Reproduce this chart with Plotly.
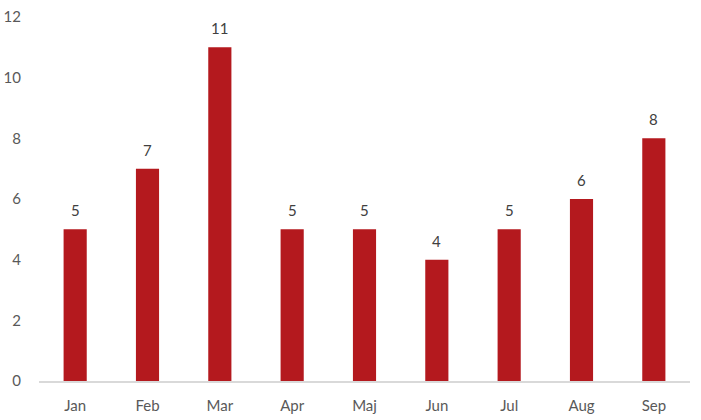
import plotly.graph_objects as go

months = ["Jan", "Feb", "Mar", "Apr", "Maj", "Jun", "Jul", "Aug", "Sep"]
values = [5, 7, 11, 5, 5, 4, 5, 6, 8]
y_ticks = [0, 2, 4, 6, 8, 10, 12]

FONT = "Lato, Open Sans, sans-serif"

fig = go.Figure(go.Bar(
    x=months, y=values,
    marker=dict(color="#B4191E", line=dict(width=0)),
    hoverinfo="x+y",
))

for m, v in zip(months, values):
    fig.add_annotation(
        x=m, y=v, text=str(v), showarrow=False,
        yanchor="bottom", yshift=8,
        font=dict(size=15, color="#404040", family=FONT),
    )

fig.update_layout(
    width=701, height=420,
    margin=dict(l=39, r=11, t=17, b=39, autoexpand=False),
    plot_bgcolor="white", paper_bgcolor="white",
    bargap=0.68,
    showlegend=False,
    font=dict(family=FONT, size=15, color="#595959"),
)
fig.update_xaxes(
    showline=True, linecolor="#D9D9D9", linewidth=2,
    showgrid=False, ticks="outside", ticklen=10, tickcolor="rgba(0,0,0,0)",
    tickfont=dict(size=15, color="#595959"), automargin=False,
)
fig.update_yaxes(
    range=[0, 12], tickvals=y_ticks, showgrid=False, zeroline=False,
    showline=False, ticks="outside", ticklen=14, tickcolor="rgba(0,0,0,0)",
    tickfont=dict(size=15, color="#595959"), automargin=False,
)
fig.write_html(
    "out.html",
    config={"displayModeBar": False},
    post_script="document.body.style.margin='0px';document.body.style.overflow='hidden';",
)
